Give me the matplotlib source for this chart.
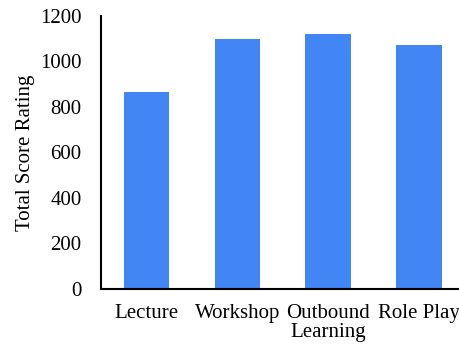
import matplotlib
matplotlib.use("Agg")
import matplotlib.pyplot as plt

# data
categories = ["Lecture", "Workshop", "Outbound\nLearning", "Role Play"]
scores = [864, 1101, 1121, 1073]
yticks = [0, 200, 400, 600, 800, 1000, 1200]

plt.rcParams['font.family'] = ['Liberation Serif', 'DejaVu Serif']

fig = plt.figure(figsize=(4.6, 3.44), dpi=100)
ax = fig.add_axes([0.2196, 0.16, 0.79, 0.7935])

ax.bar(range(len(categories)), scores, width=0.5, color="#4285F4")

ax.set_xlim(-0.5, 3.5)
ax.set_ylim(0, 1200)
ax.set_yticks(yticks)
ax.set_xticks(range(len(categories)))
ax.set_xticklabels(categories, fontsize=15, linespacing=1.0)
ax.tick_params(axis='y', labelsize=15, length=0, pad=14)
ax.tick_params(axis='x', length=0, pad=11)
ax.set_ylabel("Total Score Rating", fontsize=15, labelpad=4)

for s in ["top", "right"]:
    ax.spines[s].set_visible(False)
for s in ["left", "bottom"]:
    ax.spines[s].set_linewidth(1.5)
    ax.spines[s].set_color("black")

fig.savefig("out.png", dpi=100)
